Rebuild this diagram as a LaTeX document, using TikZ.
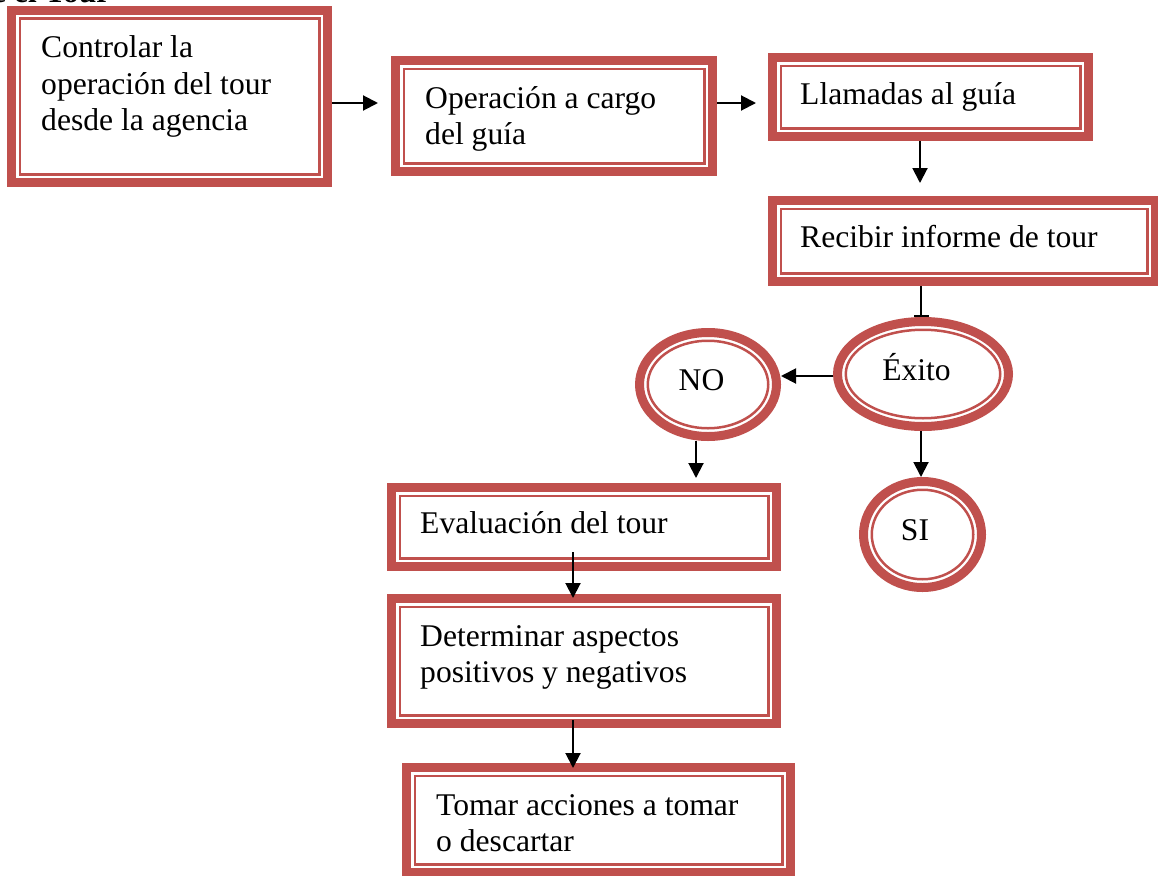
\documentclass[tikz,border=0pt]{standalone}
\usepackage{fontspec}
\setmainfont{Liberation Serif}
\usetikzlibrary{arrows.meta,shapes.geometric}
\definecolor{boxred}{HTML}{C0504D}
\newcommand\mkbox[5]{%
  \node[boxst, minimum width=#4pt-9pt, minimum height=#5pt-9pt] (#1) at (#2,#3) {};
  \draw[innerline] ([shift={(12.75pt,-12.75pt)}]#1.north west) rectangle ([shift={(-12.75pt,12.75pt)}]#1.south east);}
\newcommand\mkoval[5]{%
  \node[ovalst, minimum width=2*#4pt-9pt, minimum height=2*#5pt-9pt] (#1) at (#2,#3) {};
  \draw[innerline] (#1.center) ellipse [x radius=#4pt-12.75pt, y radius=#5pt-12.75pt];}
\begin{document}
\begin{tikzpicture}[x=1pt,y=-1pt,
  boxst/.style={rectangle, draw=boxred, line width=9pt, outer sep=4.5pt, inner sep=0pt},
  ovalst/.style={ellipse, draw=boxred, line width=9pt, outer sep=4.5pt, inner sep=0pt},
  innerline/.style={draw=boxred, line width=2.5pt},
  txt/.style={font=\fontsize{31.6pt}{36pt}\selectfont, inner sep=0pt, anchor=base west, text width=380pt, align=flush left},
  lbl/.style={font=\fontsize{31.6pt}{36pt}\selectfont, inner sep=0pt, anchor=base},
  arr/.style={line width=2pt, -{Triangle[length=15pt,width=15pt]}},
  bararr/.style={line width=2pt, -{Bar[width=15pt,line width=2.5pt]}}
]
\useasboundingbox (0,0) rectangle (1158,875);
\clip (0,0) rectangle (1158,875);

% title (cut at the top)
\node[font=\bfseries\fontsize{31.6pt}{36pt}\selectfont, inner sep=0pt, anchor=base west] (title) at (-8,3) {e el Tour};

% boxes
\mkbox{b1}{169.5}{96.5}{325}{181}
\mkbox{b2}{554}{116}{326}{120}
\mkbox{b3}{930.5}{97}{325}{88}
\mkbox{b4}{964}{241}{392}{90}
\mkbox{ev}{584}{527}{394}{88}
\mkbox{de}{584}{661}{394}{134}
\mkbox{to}{598.5}{820}{393}{114}
\mkoval{ex}{923}{374}{90}{57}
\mkoval{no}{708}{384.5}{73}{56.5}
\mkoval{si}{922.5}{534.5}{63.5}{57.5}

% texts
\node[txt] (t1) at (41,58) {Controlar la\\operación del tour\\desde la agencia};
\node[txt] (t2) at (425,108) {Operación a cargo\\del guía};
\node[txt] (t3) at (800,104) {Llamadas al guía};
\node[txt] (t4) at (800,247) {Recibir informe de tour};
\node[txt] (t5) at (420,533) {Evaluación del tour};
\node[txt] (t6) at (420,646) {Determinar aspectos\\positivos y negativos};
\node[txt] (t7) at (436,815) {Tomar acciones a tomar\\o descartar};
\node[lbl] (lex) at (916.5,380) {Éxito};
\node[lbl] (lno) at (701.5,390) {NO};
\node[lbl] (lsi) at (915,540) {SI};

% connectors
\coordinate (p1) at ([yshift=13pt]b2.west);
\draw[arr, shorten >=13pt] (b1.east |- p1) -- (p1);
\coordinate (p2) at ([yshift=-6pt]b3.west);
\draw[arr, shorten >=12pt] (b2.east |- p2) -- (p2);
\coordinate (p3) at ([xshift=-10.5pt]b3.south);
\draw[arr, shorten >=13pt] (p3) -- (p3 |- b4.north);
\coordinate (p4) at ([xshift=-2pt]ex.north);
\draw[bararr] (p4 |- b4.south) -- (p4);
\coordinate (p5) at ([yshift=-2pt]ex.west);
\draw[arr] (p5) -- (p5 -| no.east);
\coordinate (p6) at ([xshift=-12pt]no.south);
\draw[arr, shorten >=5pt] (p6) -- (p6 |- ev.north);
\coordinate (p7) at ([xshift=-2pt]ex.south);
\draw[arr] (p7) -- (p7 |- si.north);
\coordinate (p8) at ([xshift=-11pt,yshift=19pt]ev.south);
\draw[arr, shorten >=-4pt] (p8) -- (p8 |- de.north);
\coordinate (p9) at ([xshift=-11pt,yshift=8pt]de.south);
\draw[arr, shorten >=-5pt] (p9) -- (p9 |- to.north);
\end{tikzpicture}
\end{document}
